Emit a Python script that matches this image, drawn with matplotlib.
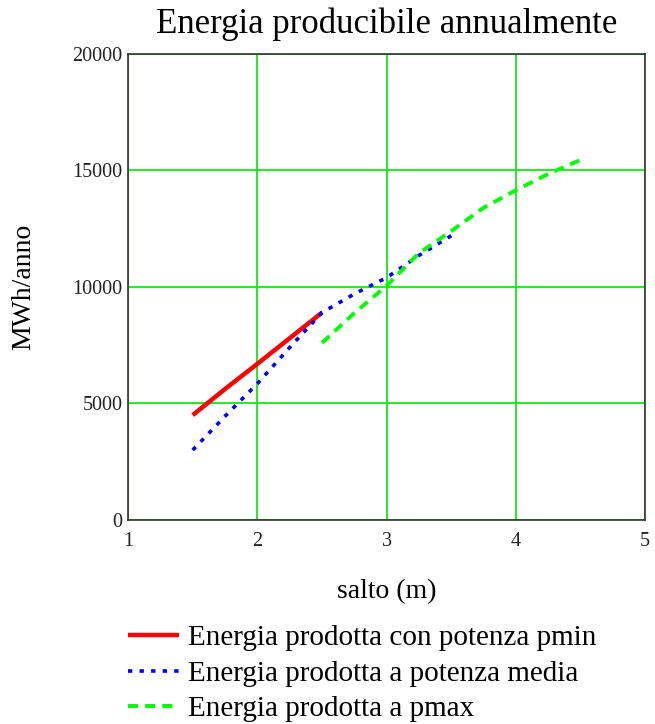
import numpy as np
import matplotlib.pyplot as plt

# values
salto_pmin = [1.5, 1.75, 2.0, 2.25, 2.5]
energia_pmin = [4500, 5620, 6700, 7800, 8900]

salto_media = [1.5, 1.75, 2.0, 2.25, 2.5, 2.75, 3.0, 3.25, 3.5]
energia_media = [3000, 4450, 5850, 7400, 8900, 9700, 10400, 11350, 12200]

salto_pmax = [2.5, 2.75, 3.0, 3.25, 3.5, 3.75, 4.0, 4.25, 4.5]
energia_pmax = [7600, 8880, 10050, 11450, 12400, 13400, 14150, 14850, 15450]

x_ticks = [1, 2, 3, 4, 5]
y_ticks = [0, 5000, 10000, 15000, 20000]

plt.rcParams['font.family'] = ['Liberation Serif', 'DejaVu Serif']

fig = plt.figure(figsize=(6.55, 7.24), dpi=100)
ax = fig.add_axes([0.1955, 0.2818, 0.7895, 0.6437])

ax.plot(salto_pmin, energia_pmin, color='#ff0000', linewidth=3.2,
        solid_capstyle='butt', label="Energia prodotta con potenza pmin", zorder=3)
ax.plot(salto_media, energia_media, color='#0000ff', linewidth=2.6,
        linestyle=(0, (1.2, 2.0)), label="Energia prodotta a potenza media", zorder=3)
ax.plot(salto_pmax, energia_pmax, color='#00ff00', linewidth=2.8,
        linestyle=(0, (2.6, 1.8)), label="Energia prodotta a pmax", zorder=3)

ax.set_xlim(1, 5)
ax.set_ylim(0, 20000)
ax.set_xticks(x_ticks)
ax.set_yticks(y_ticks)
ax.tick_params(length=0, labelsize=14.5, colors='#222222')
ax.tick_params(axis='x', pad=9)
ax.tick_params(axis='y', pad=4)
ax.grid(True, color='#00e600', linewidth=1.2)
ax.set_axisbelow(True)
for s in ax.spines.values():
    s.set_color('#333333')
    s.set_linewidth(1.2)

ax.set_title("Energia producibile annualmente", fontsize=25, pad=15)
ax.set_xlabel("salto (m)", fontsize=20, labelpad=20)
ax.set_ylabel("MWh/anno", fontsize=20, labelpad=26)

ax.legend(loc='upper left', bbox_to_anchor=(-0.022, -0.2), frameon=False,
          fontsize=21, handlelength=1.72, handletextpad=0.34, labelspacing=0.31,
          borderaxespad=0)

fig.savefig("out.png", dpi=100)
